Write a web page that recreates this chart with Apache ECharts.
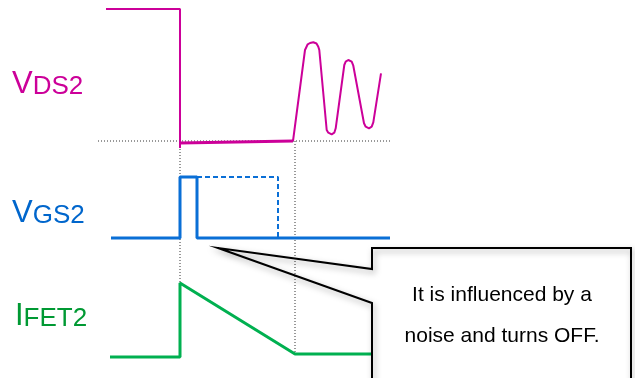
<!DOCTYPE html>
<html>
<head>
<meta charset="utf-8">
<script src="https://cdn.jsdelivr.net/npm/echarts@6/dist/echarts.min.js"></script>
<style>
  html, body { margin: 0; padding: 0; background: #fff; }
  #chart { width: 635px; height: 378px; }
</style>
</head>
<body>
<div id="chart"></div>
<script>
// time axis is in arbitrary units, each waveform has its own amplitude axis
var vdsHigh = [[8, 134], [82, 134], [82, -5], [82, 0]];
var vdsOn = [[82, 0], [195, 2]];
var vdsRinging = [
  [195, 2], [207, 93], [209.7, 98.7], [212, 100], [215.3, 100.7], [218.5, 99.5], [220.3, 96.3], [221.3, 93],
  [228.7, 13], [230.3, 10.3], [233.7, 8.7], [236.3, 10.3], [237.7, 14.7],
  [246.3, 78], [247.7, 81.3], [250.3, 83], [253.7, 81.3], [255.3, 77.3],
  [266, 19.7], [267.7, 16.3], [271, 14.7], [273.7, 16.3], [275.3, 20.7], [283, 69.7]
];
var vgsActual = [[13, 0], [82, 0], [82, 61], [99, 61], [99, 0], [292, 0]];
var vgsIntended = [[99, 61], [180, 61], [180, 0]];
var ifet = [[12, 0], [82, 0], [82, 74], [197, 3], [292, 3]];
// dotted guides (in VDS2 axis units)
var guideLevel = [[0, 2], [292, 2]];
var guideTurnOn = [[82, 0], [82, -140]];
var guideTurnOff = [[197, 2], [197, -211]];

var labels = [
  { big: "V", small: "DS2", color: "#cc0099", y: 99 },
  { big: "V", small: "GS2", color: "#0066cc", y: 228 },
  { big: "I", small: "FET2", color: "#009933", y: 331 }
];
var noteLines = ["It is influenced by a", "noise and turns OFF."];

var font = "'Liberation Sans', Arial, sans-serif";
var magenta = "#cc0099";
var blue = "#0a6fd6";
var green = "#00b050";

function xAxis(i) {
  return { gridIndex: i, type: "value", min: 0, max: 292, show: false };
}
function line(data, color, width, xi, extra) {
  var s = {
    type: "line",
    xAxisIndex: xi,
    yAxisIndex: xi,
    data: data,
    symbol: "none",
    clip: false,
    animation: false,
    lineStyle: { color: color, width: width },
    z: 3
  };
  return Object.assign(s, extra || {});
}
var dotted = { color: "#333", width: 1, type: [1, 2] };

var graphics = [];
labels.forEach(function (l, i) {
  graphics.push({
    type: "text",
    left: i == 2 ? 15 : 12,
    top: l.y - 30,
    style: {
      text: "{a|" + l.big + "}{b|" + l.small + "}",
      rich: {
        a: { fontSize: 31, fontFamily: font, fill: l.color, verticalAlign: "bottom" },
        b: { fontSize: 26, fontFamily: font, fill: l.color, verticalAlign: "bottom" }
      }
    }
  });
});
// callout box
graphics.push({
  type: "rect",
  shape: { x: 372, y: 248, width: 259, height: 150 },
  style: { fill: "#fff" },
  z: 10
});
graphics.push({
  type: "polyline",
  shape: {
    points: [[372, 400], [372, 303], [218, 248], [372, 269], [372, 248], [631, 248], [631, 400]]
  },
  style: {
    stroke: "#000",
    lineWidth: 2,
    fill: null,
    shadowBlur: 6,
    shadowColor: "rgba(0,0,0,0.35)",
    shadowOffsetX: 2,
    shadowOffsetY: 3
  },
  z: 11
});
noteLines.forEach(function (t, i) {
  graphics.push({
    type: "text",
    x: 502,
    y: 295 + i * 41,
    style: {
      text: t,
      fontSize: 21,
      fontFamily: font,
      fill: "#000",
      align: "center",
      verticalAlign: "middle"
    },
    z: 12
  });
});

var chart = echarts.init(document.getElementById("chart"), null, { renderer: "canvas" });
chart.setOption({
  animation: false,
  backgroundColor: "#fff",
  grid: [
    { left: 98, width: 292, top: 9, height: 134 },
    { left: 98, width: 292, top: 177, height: 61 },
    { left: 98, width: 292, top: 283, height: 74 }
  ],
  xAxis: [xAxis(0), xAxis(1), xAxis(2)],
  yAxis: [
    { gridIndex: 0, type: "value", min: 0, max: 134, show: false },
    { gridIndex: 1, type: "value", min: 0, max: 61, show: false },
    { gridIndex: 2, type: "value", min: 0, max: 74, show: false }
  ],
  series: [
    line(guideLevel, "#333", 1, 0, { lineStyle: dotted, z: 1 }),
    line(guideTurnOn, "#333", 1, 0, { lineStyle: dotted, z: 1 }),
    line(guideTurnOff, "#333", 1, 0, { lineStyle: dotted, z: 1 }),
    line(vdsHigh, magenta, 2, 0),
    line(vdsOn, magenta, 3, 0),
    line(vdsRinging, magenta, 2, 0),
    line(vgsIntended, blue, 2, 1, { lineStyle: { color: blue, width: 2, type: [5, 3] } }),
    line(vgsActual, blue, 3, 1),
    line(ifet, green, 3, 2)
  ],
  graphic: graphics
});
</script>
</body>
</html>
